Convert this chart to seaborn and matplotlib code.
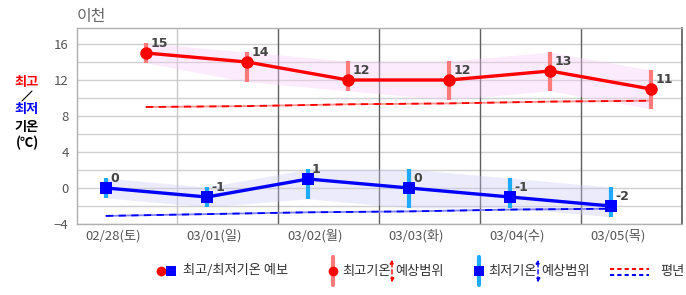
import numpy as np
import pandas as pd
import matplotlib
matplotlib.use("Agg")
import matplotlib.pyplot as plt
import seaborn as sns
from matplotlib.lines import Line2D
from matplotlib.patches import FancyArrowPatch

# ---------------- data ----------------
title = "이천"
dates = ["02/28(토)", "03/01(일)", "03/02(월)", "03/03(화)", "03/04(수)", "03/05(목)"]
high = [15, 14, 12, 12, 13, 11]
high_upper = [16.1, 15.1, 14.1, 14.1, 15.1, 13.1]
high_lower = [13.9, 11.8, 10.8, 9.8, 10.8, 8.8]
low = [0, -1, 1, 0, -1, -2]
low_upper = [1.1, 0.1, 2.1, 2.1, 1.1, 0.1]
low_lower = [-1.1, -2.1, -1.2, -2.2, -2.2, -3.2]
normal_high = [9.0, 9.1, 9.3, 9.4, 9.6, 9.7]
normal_low = [-3.1, -2.9, -2.7, -2.6, -2.4, -2.3]
yticks = [-4, 0, 4, 8, 12, 16]

# ---------------- setup ----------------
sns.set_theme(style="white")
plt.rcParams['font.family'] = ['Noto Sans CJK KR', 'DejaVu Sans']
plt.rcParams['axes.unicode_minus'] = True

W, H = 686, 295
fig = plt.figure(figsize=(W / 100, H / 100), dpi=100)
ax = fig.add_axes([77 / W, 1 - 224 / H, (682 - 77) / W, (224 - 28) / H])

n = len(dates)
day = np.arange(n)
x_low = day + 0.0
x_high = day + 40 / 101
x_sep = day + 71 / 101
x_lab = day + 7 / 101

df_high = pd.DataFrame({"x": x_high, "y": high, "up": high_upper, "lo": high_lower, "nrm": normal_high})
df_low = pd.DataFrame({"x": x_low, "y": low, "up": low_upper, "lo": low_lower, "nrm": normal_low})

# grid
for v in np.arange(-4, 17, 2):
    ax.axhline(v, color="#d0d0d0", lw=1, zorder=0)
for i, xs in enumerate(x_sep):
    ax.axvline(xs, color="#c8c8c8" if i == 0 else "#606060", lw=1, zorder=0.5)

# bands
ax.fill_between(df_high["x"], df_high["lo"], df_high["up"], color="#f7c8f7", alpha=0.35, lw=0, zorder=1)
ax.fill_between(df_low["x"], df_low["lo"], df_low["up"], color="#c8c8f5", alpha=0.35, lw=0, zorder=1)

# normals (two-tone dashes)
sns.lineplot(data=df_high, x="x", y="nrm", ax=ax, color="#ff9090", lw=1.3, zorder=2, estimator=None)
sns.lineplot(data=df_high, x="x", y="nrm", ax=ax, color="#ff0000", lw=1.3, zorder=2.1, estimator=None,
             dashes=False).lines[-1].set_dashes([4, 3])
sns.lineplot(data=df_low, x="x", y="nrm", ax=ax, color="#8080ff", lw=1.3, zorder=2, estimator=None)
sns.lineplot(data=df_low, x="x", y="nrm", ax=ax, color="#0000ff", lw=1.3, zorder=2.1, estimator=None,
             dashes=False).lines[-1].set_dashes([4, 3])

# range bars
ax.vlines(df_high["x"], df_high["lo"], df_high["up"], color="#ff7b7b", lw=3, zorder=3)
ax.vlines(df_low["x"], df_low["lo"], df_low["up"], color="#1eaaff", lw=3, zorder=3)

# main lines
sns.lineplot(data=df_high, x="x", y="y", ax=ax, color="#ff0000", lw=2.4, marker="o", markersize=9,
             markeredgewidth=0, zorder=4, estimator=None)
sns.lineplot(data=df_low, x="x", y="y", ax=ax, color="#0000ff", lw=2.4, marker="s", markersize=8.5,
             markeredgewidth=0, zorder=4, estimator=None)

# value labels
for xv, yv in zip(df_high["x"], df_high["y"]):
    ax.annotate(f"{yv}", (xv, yv), xytext=(3.6, 6.5), textcoords="offset points",
                ha="left", va="center", fontsize=9, fontweight="bold", color="#444444",
                family=['DejaVu Sans'], zorder=6)
for xv, yv in zip(df_low["x"], df_low["y"]):
    ax.annotate(f"{yv}".replace("\u2212", "-"), (xv, yv), xytext=(2.9, 6.5), textcoords="offset points",
                ha="left", va="center", fontsize=9, fontweight="bold", color="#444444",
                family=['DejaVu Sans'], zorder=6)

# axes styling
ax.set_xlim(-29 / 101, 605 / 101 - 29 / 101)
ax.set_ylim(-4, 16 + 16 / 9)
ax.set_yticks(yticks)
ax.set_yticklabels([f"{t}".replace("-", "\u2212") for t in yticks])
ax.set_xticks(x_lab)
ax.set_xticklabels(dates)
ax.tick_params(axis="both", length=0, colors="#555555", labelsize=9.5)
ax.tick_params(axis="y", pad=6)
ax.tick_params(axis="x", pad=4)
ax.set_xlabel("")
ax.set_ylabel("")
for s in ["left", "bottom", "top"]:
    ax.spines[s].set_color("#b0b0b0")
    ax.spines[s].set_linewidth(1)
ax.spines["right"].set_color("#606060")
ax.grid(False)

# title
fig.text(77 / W, 1 - 16 / H, title, ha="left", va="center", fontsize=11.5, color="#666666")

# y-axis label block
fx = 27 / W
fig.text(fx, 1 - 82 / H, "최고", ha="center", va="center", fontsize=9.5, fontweight="bold", color="#ff0000")
fig.add_artist(Line2D([22 / W, 32 / W], [1 - 101 / H, 1 - 91 / H], color="black", lw=0.8))
fig.text(fx, 1 - 109 / H, "최저", ha="center", va="center", fontsize=9.5, fontweight="bold", color="#0000ff")
fig.text(fx, 1 - 127.5 / H, "기온", ha="center", va="center", fontsize=9.5, fontweight="bold", color="black")
fig.text(fx, 1 - 143 / H, "(℃)", ha="center", va="center", fontsize=9.5, fontweight="bold", color="black")

# legend (custom)
ly = 1 - 271 / H
def fxp(px):
    return px / W

fig.add_artist(Line2D([fxp(161)], [ly], marker="o", color="#ff0000", markersize=7, markeredgewidth=0, lw=0))
fig.add_artist(Line2D([fxp(171)], [ly], marker="s", color="#0000ff", markersize=6.5, markeredgewidth=0, lw=0))
fig.text(fxp(183), ly, "최고/최저기온 예보", ha="left", va="center", fontsize=9.5, color="#333333")

fig.add_artist(Line2D([fxp(333), fxp(333)], [1 - 257 / H, 1 - 285 / H], color="#ff7b7b", lw=3))
fig.add_artist(Line2D([fxp(333)], [ly], marker="o", color="#ff0000", markersize=7, markeredgewidth=0, lw=0))
fig.text(fxp(342), ly, "최고기온", ha="left", va="center", fontsize=9.5, color="#333333")
fig.add_artist(FancyArrowPatch((fxp(392), 1 - 285 / H), (fxp(392), 1 - 257 / H), transform=fig.transFigure,
                               arrowstyle="<|-|>,head_length=2,head_width=1.2", color="#ff0000",
                               lw=1, linestyle=(0, (3, 2)), mutation_scale=1))
fig.text(fxp(395), ly, "예상범위", ha="left", va="center", fontsize=9.5, color="#333333")

fig.add_artist(Line2D([fxp(479), fxp(479)], [1 - 257 / H, 1 - 285 / H], color="#1eaaff", lw=3))
fig.add_artist(Line2D([fxp(479)], [ly], marker="s", color="#0000ff", markersize=6.5, markeredgewidth=0, lw=0))
fig.text(fxp(488), ly, "최저기온", ha="left", va="center", fontsize=9.5, color="#333333")
fig.add_artist(FancyArrowPatch((fxp(538), 1 - 285 / H), (fxp(538), 1 - 257 / H), transform=fig.transFigure,
                               arrowstyle="<|-|>,head_length=2,head_width=1.2", color="#0000ff",
                               lw=1, linestyle=(0, (3, 2)), mutation_scale=1))
fig.text(fxp(541), ly, "예상범위", ha="left", va="center", fontsize=9.5, color="#333333")

fig.add_artist(Line2D([fxp(610), fxp(649)], [1 - 268.5 / H] * 2, color="#ff0000", lw=1.5, linestyle=(0, (2, 1.5))))
fig.add_artist(Line2D([fxp(610), fxp(649)], [1 - 274.5 / H] * 2, color="#0000ff", lw=1.5, linestyle=(0, (2, 1.5))))
fig.text(fxp(660), ly, "평년", ha="left", va="center", fontsize=9.5, color="#333333")

fig.savefig("out.png", dpi=100)
